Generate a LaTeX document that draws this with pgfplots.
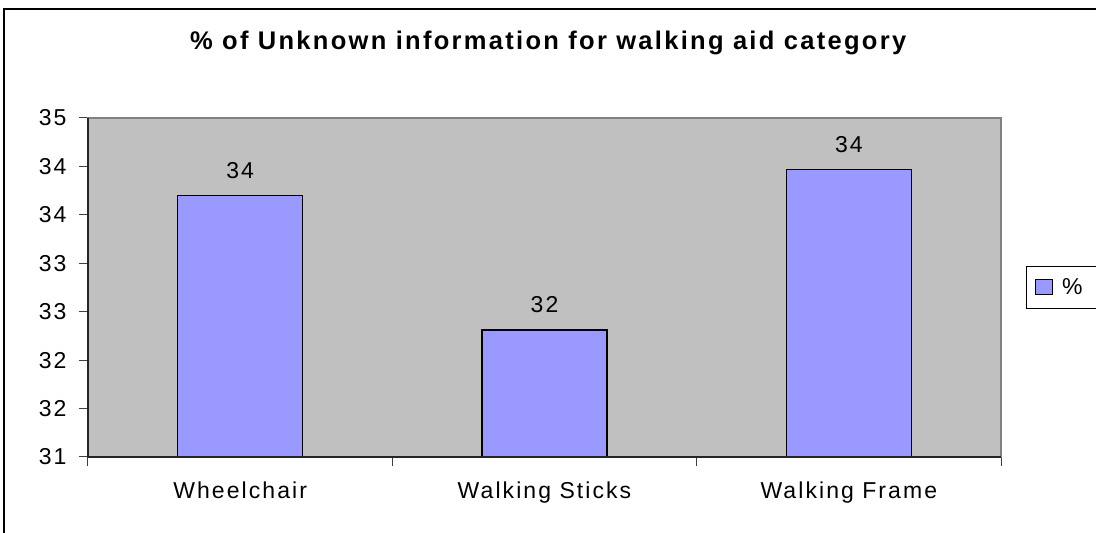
\documentclass[border=0pt]{standalone}
\usepackage{pgfplots}
\pgfplotsset{compat=1.18}
\usepackage{fontspec}
\setmainfont{Liberation Sans}[LetterSpace=9]
\definecolor{barfill}{HTML}{9999FF}
\definecolor{plotbg}{HTML}{C0C0C0}
\definecolor{frameg}{HTML}{808080}
\newcommand{\chartfont}{\fontsize{23bp}{27bp}\selectfont}

\begin{document}
\begin{tikzpicture}[x=1bp,y=1bp]
  \clip (-88,-76) rectangle (1008,457);
  \draw[line width=2bp] (-84,-120) -- (-84,448) -- (1050,448);
  \begin{axis}[
      at={(0,0)}, anchor=south west,
      scale only axis,
      width=913bp, height=339bp,
      ybar, bar width=125bp,
      xmin=0.5, xmax=3.5,
      ymin=31, ymax=34.5,
      axis background/.style={fill=plotbg},
      axis line style={frameg, line width=1.2bp},
      tick align=outside,
      xtick pos=bottom, ytick pos=left,
      major tick length=9bp,
      tick style={black!75, line width=1bp},
      xtick={0.5,1.5,2.5,3.5},
      xticklabels={},
      extra x ticks={1,2,3},
      extra x tick labels={Wheelchair, Walking Sticks, Walking Frame},
      extra x tick style={major tick length=0bp,
        tick label style={yshift=-21bp}},
      ytick={31,31.5,32,32.5,33,33.5,34,34.5},
      yticklabels={31,32,32,33,33,34,34,35},
      yticklabel style={xshift=-9bp},
      ticklabel style={font=\chartfont},
      /pgf/number format/assume math mode=true,
      title={\% of Unknown information for walking aid category},
      title style={at={(rel axis cs:0.504,1.203)}, anchor=center,
        font=\fontsize{25.5bp}{29bp}\selectfont\bfseries},
      nodes near coords,
      nodes near coords style={font=\chartfont,
        /pgf/number format/fixed, /pgf/number format/precision=0,
        yshift=13bp},
      legend style={at={(rel axis cs:1.0274,0.563)}, anchor=north west,
        draw=black, fill=white, line width=1bp,
        font=\chartfont,
        inner xsep=8bp, inner ysep=10bp,
        nodes={inner xsep=9bp}},
      legend image code/.code={
        \draw[fill=barfill, draw=black, line width=1.5bp]
          (0bp,-7bp) rectangle (17bp,8bp);},
      after end axis/.code={
        \draw[black!85, line width=1.2bp]
          (rel axis cs:0,1) -- (rel axis cs:0,0) -- (rel axis cs:1,0);},
    ]
    \addplot[fill=barfill, draw=black, line width=1.5bp]
      coordinates {(1,33.70) (2,32.31) (3,33.97)};
    \legend{\%}
  \end{axis}
\end{tikzpicture}
\end{document}
